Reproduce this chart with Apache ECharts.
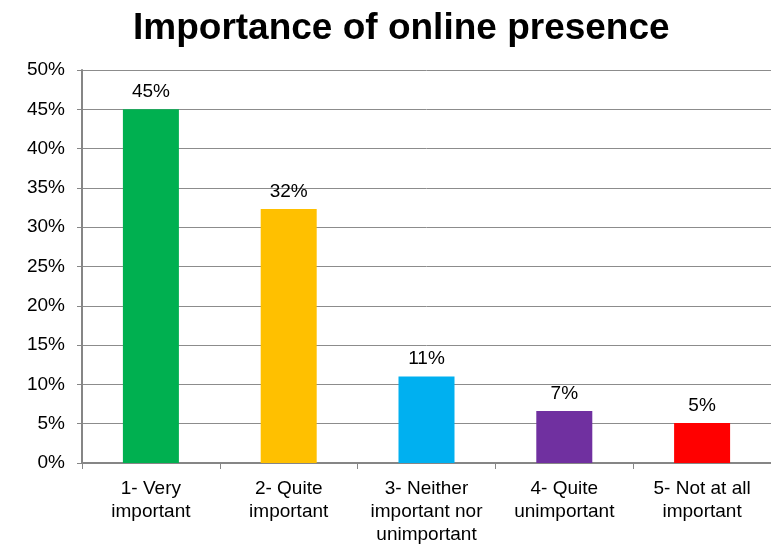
<!DOCTYPE html>
<html>
<head>
<meta charset="utf-8">
<script src="https://cdn.jsdelivr.net/npm/echarts@6/dist/echarts.min.js"></script>
<style>
  html, body { margin: 0; padding: 0; background: #fff; }
  #chart { width: 771px; height: 547px; }
</style>
</head>
<body>
<div id="chart"></div>
<script>
const categories = [
  '1- Very\nimportant',
  '2- Quite\nimportant',
  '3- Neither\nimportant nor\nunimportant',
  '4- Quite\nunimportant',
  '5- Not at all\nimportant'
]
const shares = [45.0, 32.3, 11.0, 6.6, 5.1]
const barColors = ['#00B050', '#FFC000', '#00B0F0', '#7030A0', '#FF0000']
const yTicks = [0, 5, 10, 15, 20, 25, 30, 35, 40, 45, 50]

const font = 'Liberation Sans, Arial, sans-serif'
const chart = echarts.init(document.getElementById('chart'))

const option = {
  animation: false,
  title: {
    text: 'Importance of online presence',
    left: 128,
    top: 5,
    textStyle: { fontFamily: font, fontSize: 37, fontWeight: 'bold', color: '#000' }
  },
  grid: { left: 82, right: 0, top: 70, bottom: 84 },
  xAxis: {
    type: 'category',
    data: categories,
    axisLine: { lineStyle: { color: '#868686', width: 2 } },
    axisTick: { show: true, length: 6, lineStyle: { color: '#868686' } },
    axisLabel: {
      fontFamily: font, fontSize: 19, color: '#000',
      lineHeight: 23, margin: 14, interval: 0
    }
  },
  yAxis: {
    type: 'value',
    min: yTicks[0],
    max: yTicks[yTicks.length - 1],
    interval: 5,
    axisLine: { show: true, lineStyle: { color: '#868686', width: 2 } },
    axisTick: { show: true, length: 5, lineStyle: { color: '#868686' } },
    axisLabel: {
      fontFamily: font, fontSize: 19, color: '#000', margin: 17,
      formatter: v => v + '%'
    },
    splitLine: { lineStyle: { color: '#8C8C8C', width: 1 } }
  },
  series: [{
    type: 'bar',
    barWidth: 56,
    data: shares.map((v, i) => ({ value: v, itemStyle: { color: barColors[i] } })),
    label: {
      show: true,
      position: 'top',
      distance: 8,
      fontFamily: font,
      fontSize: 19,
      color: '#000',
      formatter: p => Math.round(p.value) + '%'
    }
  }]
}

chart.setOption(option)
</script>
</body>
</html>
